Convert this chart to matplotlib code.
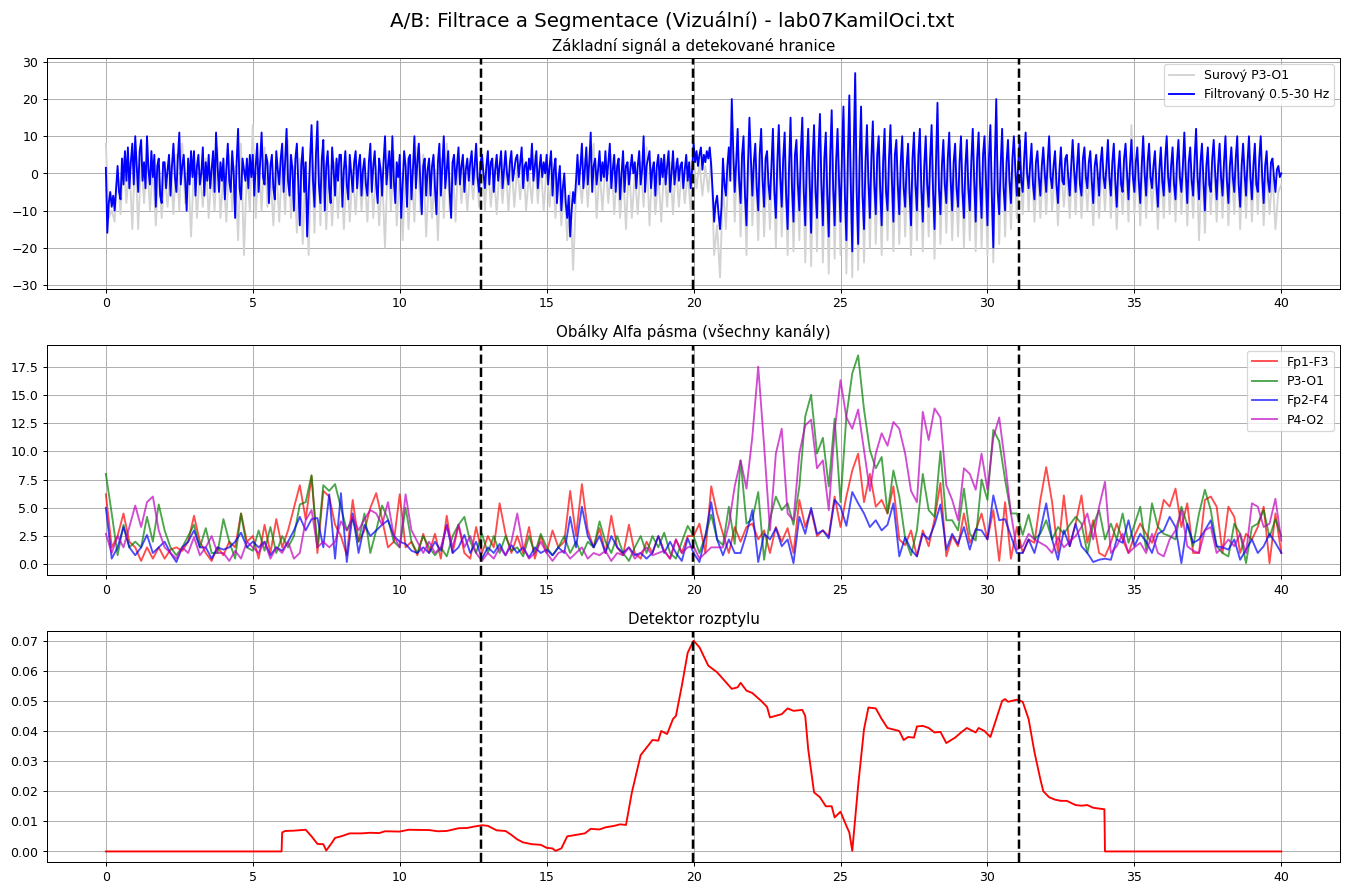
import numpy as np
import matplotlib.pyplot as plt

# hranice segmentu (s)
boundaries = [12.77, 19.97, 31.08]

# --- horni graf: surovy P3-O1 (po 0.1 s) a filtrovany (po 0.05 s) ---
raw_p3o1 = [
    8, -12, -10, -13, 1, -11, 4, -8, 3, -15,
    6, -15, 4, -8, 5, -10, 2, -14, 1, -12,
    0, -9, 2, -11, 5, -10, 8, -8, 1, -17,
    3, -12, 1, -9, 4, -12, 1, -10, 7, -12,
    0, -13, 5, -10, 2, -18, 8, -22, 1, -10,
    13, -12, 4, -10, 7, -9, 0, -14, 2, -13,
    4, -11, 9, -12, 2, -16, 4, -19, 3, -22,
    9, -16, 10, -14, 5, -15, 2, -14, 3, -12,
    1, -15, 2, -13, 1, -11, 2, -10, 1, -13,
    4, -12, 2, -14, 0, -20, 6, -10, 6, -14,
    1, -18, 2, -15, 1, -13, 7, -10, 5, -17,
    0, -12, 1, -18, 4, -12, 8, -10, 3, -13,
    5, -8, 2, -10, 1, -7, 3, -9, 5, -10,
    3, -9, 1, -11, 2, -8, 3, -10, 3, -9,
    2, -7, 4, -10, 0, -8, 5, -8, 3, -10,
    2, -9, 3, -12, 0, -14, -3, -18, -5, -26,
    -6, 0, -8, 4, -9, 3, 8, -12, 1, -10,
    3, -8, 5, -11, 2, -12, 1, -15, 3, -12,
    0, -11, 3, -9, 7, -14, 3, -11, 0, -13,
    2, -9, 3, -11, 3, -9, 1, -8, 0, -10,
    4, -4, 3, -6, 2, -5, 4, -22, -14, -28,
    -3, -15, 3, 17, -13, 8, -17, 6, -22, 10,
    -14, 4, -18, 8, -17, 2, -15, 8, -20, 9,
    -17, 7, -22, 11, -21, 5, -18, 11, -24, 8,
    -25, 9, -21, 12, -24, 7, -27, 13, -23, 8,
    -22, 15, -27, 17, -28, 24, -26, 14, -24, 9,
    -20, 10, -19, 6, -22, 8, -18, 9, -21, 5,
    -19, 6, -17, 4, -22, 7, -18, 8, -21, 6,
    -17, 9, -23, 16, -19, 5, -16, 7, -18, 4,
    -17, 6, -20, 5, -18, 8, -21, 7, -20, 6,
    -22, 9, -24, 16, -19, 8, -17, 5, -15, 6,
    -12, 5, -11, 7, -10, 4, -13, 2, -12, 3,
    -11, 6, -10, 2, -14, 3, -9, 1, -12, 5,
    -11, 4, -12, 3, -10, 2, -14, 1, -12, 3,
    -10, 5, -12, 4, -15, 2, -11, 4, -13, 13,
    -11, 3, -14, 6, -12, 4, -10, 2, -15, 3,
    -12, 6, -11, 3, -13, 5, -11, 7, -14, 3,
    -12, 8, -18, 4, -16, 3, -11, 5, -13, 4,
    -12, 6, -14, 3, -11, 6, -15, 4, -12, 6,
    -13, 4, -11, 6, -14, 2, -11, 0, -15, -5,
    -3,
]
filt_p3o1 = [
    1.5, -16, -8, -5, -9, -6, -10, -4, 2, -5, -7, 4, -3, 6, -2, 7, -4, 3, 8, -3,
    10, 2, -5, 6, 9, -2, 3, -4, 10, 1, -3, 6, -1, 5, -9, 2, 4, -6, -8, 3,
    3, -4, 1, 5, -6, 2, 8, -1, -5, 4, 11, -3, 2, 5, -2, -10, 4, -3, 6, -1,
    6, -6, 2, 5, -3, 0, 7, -6, 3, -2, 5, -4, 1, 6, -5, 11, 2, -5, 3, -2,
    4, -7, 1, 8, -2, -5, 6, 0, -12, 3, 12, -4, -7, 4, 1, -2, 4, -4, 5, -1,
    5, -6, 2, 8, -5, 3, 11, -1, -3, 5, 3, -8, 2, 5, -4, -7, 6, 1, -3, 4,
    8, -5, 3, 12, -2, -6, 5, 1, -10, 4, 8, -3, -14, 2, 7, -5, 3, -17, -6, 4,
    13, -2, -9, 5, 14, -3, -8, 4, 9, -10, 2, 6, -4, -8, 7, 1, -6, 4, -2, 5,
    5, -9, 1, 6, -3, -7, 5, 0, -5, 3, 6, -4, 2, 5, -6, 1, 4, -3, -6, 3,
    8, -5, 2, 6, -3, -8, 4, 1, -6, 3, 10, -3, 2, 6, -4, 10, -2, -8, 3, -1,
    5, -12, -3, 6, 2, -9, 4, 5, -7, 1, 10, -4, 3, 8, -2, -11, 2, 4, -6, 1,
    4, -6, 2, 5, -4, -11, 3, 8, -6, 2, 10, -4, 1, 6, -5, -12, 3, 5, -3, 2,
    7, -3, 2, 5, -5, 1, 4, -2, 3, 6, -3, 2, 8, -1, -5, 3, 5, 0, -4, 2,
    6, -3, 3, 4, -5, 1, 5, -2, 2, 6, -4, 1, 6, 0, -3, 3, 6, -2, 1, 4,
    5, -1, 3, 7, -4, 2, 3, -2, 4, 1, 8, -2, 2, 6, -4, 1, 5, -1, 3, 0,
    5, -3, 2, 6, -6, 1, 4, -8, -2, 2, -10, -4, 0, -8, -12, -6, -17, -10, -5, -8,
    -2, 5, -3, 2, 8, -4, 1, 7, -3, 3, 11, -5, 2, 4, -3, 1, 6, -2, 3, -1,
    6, -2, 3, 8, -4, 1, 5, -5, 2, 4, -7, 0, 6, -5, 2, 3, -3, 1, 5, 0,
    3, -4, 2, 6, -3, 1, 10, -5, 2, 4, 6, -4, 1, 3, -6, 2, 5, -3, 4, -1,
    5, -3, 2, 6, -5, 0, 6, -3, 1, 4, -2, 2, 3, -4, 1, 5, -2, 3, -4, 1,
    8, 3, 6, 2, 5, 7, 1, 5, 3, 6, 4, 7, 2, -5, -13, -8, -6, -11, -15, -9,
    4, -3, -6, 2, 7, -2, 20, 6, -5, 3, 12, -2, -8, 5, 10, -6, -14, 2, 15, 4,
    -6, 3, 8, -4, -10, 5, 12, -2, -9, 4, 6, -3, -7, 2, 12, -5, -12, 3, 13, -1,
    -9, 4, 11, -6, -15, 2, 15, -4, -13, 5, 9, -3, -10, 6, 15, -5, -14, 3, 12, -2,
    -16, 4, 13, -5, -12, 6, 16, -3, -14, 4, 11, -6, -17, 5, 17, -4, -14, 3, 12, -2,
    -13, 5, 18, -6, -18, 4, 21, -3, -21, 6, 27, -5, -19, 4, 18, -6, -15, 3, 13, -2,
    -12, 4, 14, -3, -11, 5, 10, -4, -14, 3, 12, -5, -10, 4, 13, -2, -13, 5, 9, -3,
    -11, 3, 10, -4, -9, 2, 8, -5, -14, 4, 11, -3, -10, 5, 12, -4, -13, 2, 10, -3,
    -9, 4, 13, -5, -15, 3, 19, -4, -11, 2, 9, -3, -8, 4, 11, -2, -10, 3, 8, -4,
    -9, 3, 10, -5, -12, 2, 9, -4, -10, 3, 12, -2, -13, 4, 11, -3, -12, 5, 10, -2,
    -14, 4, 13, -6, -20, 3, 20, -5, -11, 2, 12, -4, -10, 3, 9, -2, -8, 4, 10, 1,
    -6, 3, 9, -2, -5, 4, 11, 0, -4, 2, 8, -3, -7, 3, 6, -1, -6, 2, 7, 0,
    -5, 3, 10, -1, -4, 2, 6, -3, -8, 1, 7, -2, -3, 4, 5, -1, -6, 2, 9, 1,
    -5, 2, 8, -3, -6, 4, 7, -1, -4, 3, 6, -2, -8, 2, 5, 0, -6, 3, 7, -1,
    -4, 2, 9, -1, -6, 3, 8, -2, -9, 1, 6, -3, -5, 4, 8, 0, -7, 2, 9, -1,
    -5, 3, 7, -2, -8, 2, 10, 0, -6, 3, 8, -1, -4, 2, 6, -3, -9, 1, 7, -2,
    -6, 4, 10, -1, -5, 2, 7, -3, -7, 3, 9, -1, -5, 2, 11, 0, -8, 3, 7, -2,
    -6, 4, 12, -1, -7, 3, 8, -2, -10, 2, 7, -3, -5, 4, 9, 0, -7, 2, 8, -1,
    -6, 3, 10, -2, -8, 2, 7, -1, -5, 4, 10, -3, -9, 2, 8, 0, -6, 3, 10, -1,
    -7, 2, 8, -3, -5, 4, 10, -1, -8, 2, 6, -2, -5, 3, 4, -1, -5, 1, 2, -1,
    0,
]

# --- prostredni graf: obalky alfa pasma, vzorky po 0.2 s ---
env_fp1f3 = [
    6.2, 1.5, 2.5, 4.5, 2.0, 1.5, 0.3, 1.5, 0.5, 1.5,
    0.5, 1.3, 1.5, 1.2, 2.0, 4.3, 2.0, 1.0, 0.3, 1.5,
    0.8, 2.0, 1.5, 4.5, 2.0, 2.5, 0.5, 3.5, 1.0, 4.0,
    1.5, 3.0, 5.0, 7.0, 4.0, 7.8, 1.0, 6.5, 6.0, 3.5,
    2.5, 0.8, 5.7, 2.0, 3.0, 5.0, 6.3, 4.0, 1.5, 2.0,
    6.2, 1.5, 2.0, 0.8, 2.7, 1.0, 2.7, 0.5, 4.3, 1.0,
    3.5, 1.0, 0.5, 3.3, 1.0, 2.5, 1.5, 5.4, 2.7, 1.0,
    2.5, 1.0, 3.3, 0.5, 2.5, 1.0, 3.0, 1.5, 2.0, 6.5,
    2.5, 7.1, 3.0, 1.5, 3.2, 1.0, 4.3, 1.5, 0.8, 3.5,
    1.0, 0.5, 2.0, 1.0, 2.5, 1.2, 0.5, 2.2, 1.0, 2.5,
    2.5, 3.6, 1.0, 6.9, 4.5, 2.7, 1.0, 3.3, 2.0, 3.3,
    3.6, 2.2, 3.0, 1.0, 3.3, 2.0, 3.2, 1.0, 5.7, 3.3,
    4.8, 2.5, 3.0, 2.5, 6.0, 3.3, 6.0, 8.3, 9.8, 5.5,
    8.0, 5.1, 5.7, 4.5, 6.9, 2.2, 1.7, 3.0, 0.7, 3.0,
    1.6, 4.0, 7.2, 0.7, 2.5, 1.6, 4.5, 1.9, 3.0, 4.5,
    2.2, 4.8, 0.3, 5.5, 0.5, 3.3, 1.0, 2.2, 1.9, 5.7,
    8.6, 5.5, 1.0, 6.1, 1.6, 3.6, 6.1, 1.9, 3.9, 1.0,
    0.7, 1.9, 3.6, 2.2, 1.0, 2.5, 3.6, 2.7, 1.9, 3.3,
    5.7, 5.1, 6.7, 3.3, 5.4, 1.0, 1.0, 5.7, 6.0, 5.1,
    1.0, 5.1, 4.2, 1.0, 2.7, 2.2, 3.3, 5.1, 0.1, 4.5,
    1.0,
]
env_p3o1 = [
    8.0, 4.5, 0.8, 3.5, 1.5, 2.0, 1.5, 4.2, 2.0, 5.3,
    3.0, 1.5, 0.8, 1.5, 2.5, 3.5, 1.5, 3.2, 1.0, 1.0,
    4.0, 2.0, 0.5, 4.5, 1.5, 1.2, 3.0, 1.2, 3.3, 1.0,
    2.5, 1.5, 2.5, 5.3, 5.5, 7.9, 1.5, 7.0, 6.5, 7.1,
    5.0, 3.0, 4.0, 2.0, 4.5, 1.0, 3.0, 5.2, 4.0, 2.0,
    1.5, 5.0, 2.0, 1.0, 2.5, 1.5, 0.8, 1.5, 0.7, 2.5,
    3.5, 4.2, 2.0, 1.0, 2.7, 1.0, 2.5, 1.0, 2.5, 1.2,
    1.5, 0.7, 2.5, 1.0, 2.7, 1.5, 0.8, 1.5, 2.5, 1.0,
    2.0, 0.8, 2.0, 1.5, 3.8, 2.0, 1.0, 2.5, 1.0, 0.3,
    1.5, 2.5, 1.0, 2.5, 1.5, 2.8, 1.0, 0.5, 2.0, 3.4,
    2.5, 1.0, 2.5, 4.4, 2.2, 1.7, 5.1, 1.8, 9.2, 3.6,
    4.0, 6.4, 0.4, 4.0, 6.0, 4.8, 5.4, 3.5, 6.9, 13.1,
    15.0, 9.8, 11.2, 6.9, 12.9, 5.5, 13.1, 16.9, 18.5, 13.7,
    10.1, 8.5, 9.5, 4.5, 8.3, 6.0, 2.3, 0.8, 3.0, 8.0,
    4.8, 4.2, 10.0, 3.9, 3.9, 3.0, 6.7, 2.7, 2.1, 7.5,
    5.7, 11.9, 10.9, 7.5, 4.5, 4.5, 2.6, 4.4, 2.2, 2.7,
    3.9, 2.2, 3.3, 2.7, 3.5, 4.2, 3.6, 1.0, 3.5, 4.8,
    2.2, 3.6, 2.2, 4.5, 1.9, 3.5, 5.1, 1.3, 5.4, 3.3,
    2.7, 2.5, 2.2, 5.1, 3.5, 1.6, 4.5, 6.6, 4.8, 1.6,
    1.0, 0.7, 3.6, 2.7, 0.1, 3.3, 3.6, 4.8, 2.4, 4.0,
    2.5,
]
env_fp2f4 = [
    5.0, 0.5, 1.5, 3.3, 1.5, 0.8, 1.5, 2.6, 1.0, 1.5,
    2.0, 1.0, 0.2, 1.5, 2.0, 3.0, 1.5, 1.5, 0.5, 1.5,
    1.3, 1.5, 2.0, 2.8, 1.5, 2.0, 1.5, 2.0, 0.8, 1.5,
    1.2, 2.0, 3.0, 4.2, 3.0, 4.0, 4.1, 1.5, 6.2, 0.5,
    6.3, 0.2, 4.5, 1.0, 3.5, 2.5, 3.0, 3.5, 3.9, 2.5,
    2.0, 1.8, 1.2, 1.0, 1.5, 1.0, 2.0, 1.2, 3.5, 1.0,
    1.5, 2.6, 1.0, 2.0, 0.5, 1.5, 1.0, 1.8, 0.8, 1.7,
    1.0, 1.5, 0.6, 1.5, 1.0, 1.3, 0.8, 1.5, 1.0, 4.2,
    1.5, 5.1, 2.5, 1.5, 2.5, 1.0, 2.5, 1.5, 1.0, 1.5,
    0.8, 1.0, 0.5, 1.0, 2.5, 1.0, 2.0, 1.0, 0.3, 2.3,
    1.0, 0.2, 2.5, 5.5, 2.2, 0.8, 2.2, 1.0, 1.0, 2.7,
    4.8, 0.2, 2.7, 2.2, 3.2, 1.6, 2.2, 0.1, 4.2, 2.7,
    5.0, 2.7, 3.0, 2.3, 5.7, 5.1, 3.4, 6.4, 5.4, 4.5,
    3.3, 3.9, 3.0, 3.5, 5.4, 0.7, 2.4, 1.3, 0.7, 2.7,
    2.2, 3.5, 5.3, 1.3, 2.7, 1.8, 3.3, 1.3, 3.1, 3.0,
    2.2, 6.1, 3.9, 4.0, 2.5, 1.0, 1.0, 2.2, 1.0, 3.0,
    5.4, 2.2, 0.4, 3.0, 1.6, 3.6, 1.6, 1.0, 0.2, 0.4,
    0.5, 0.4, 2.2, 1.9, 3.9, 1.6, 2.7, 2.0, 1.0, 2.7,
    3.0, 4.2, 3.3, 0.1, 3.6, 1.9, 2.2, 3.0, 3.9, 1.6,
    1.5, 1.3, 2.2, 0.4, 1.3, 2.2, 1.0, 1.6, 2.7, 1.9,
    1.0,
]
env_p4o2 = [
    2.7, 1.0, 2.5, 1.5, 3.3, 5.2, 3.3, 5.5, 6.0, 3.0,
    1.5, 1.0, 0.5, 1.5, 1.0, 2.4, 0.8, 1.5, 2.5, 1.0,
    1.0, 0.3, 1.2, 0.5, 2.0, 1.5, 1.0, 2.0, 0.5, 1.5,
    1.0, 2.0, 0.5, 1.0, 3.9, 4.8, 1.5, 2.0, 1.5, 2.0,
    3.8, 3.0, 4.2, 3.0, 4.0, 4.8, 4.5, 3.5, 5.5, 2.5,
    1.5, 6.2, 3.0, 2.0, 1.0, 2.0, 1.0, 1.5, 3.4, 1.5,
    3.5, 1.5, 2.5, 1.0, 0.3, 1.0, 0.5, 1.5, 0.8, 2.0,
    4.5, 1.5, 0.5, 1.0, 2.0, 1.0, 0.3, 1.0, 1.2, 0.5,
    1.0, 1.5, 0.5, 1.0, 0.8, 1.2, 0.3, 1.0, 0.8, 1.5,
    0.5, 1.0, 1.5, 0.8, 1.0, 1.2, 0.5, 2.2, 1.0, 1.5,
    1.6, 0.5, 1.0, 1.5, 1.5, 1.5, 3.5, 6.9, 9.2, 6.7,
    11.3, 17.5, 10.5, 3.0, 9.8, 12.0, 4.5, 3.9, 9.8, 12.3,
    12.8, 8.5, 9.2, 4.8, 11.8, 16.3, 13.0, 12.0, 13.7, 10.1,
    6.5, 9.8, 11.6, 10.5, 12.6, 12.0, 9.8, 6.5, 5.5, 13.5,
    11.0, 13.8, 13.0, 7.0, 5.7, 3.9, 8.5, 8.0, 6.6, 9.8,
    6.6, 11.2, 13.0, 9.0, 4.5, 1.3, 1.6, 2.7, 2.2, 1.9,
    1.6, 1.0, 2.4, 1.5, 2.0, 2.5, 3.3, 4.5, 2.2, 5.1,
    7.3, 1.0, 1.6, 2.7, 1.0, 1.5, 1.9, 1.0, 2.7, 1.0,
    0.7, 2.2, 3.0, 4.8, 1.6, 1.2, 1.0, 3.0, 3.3, 1.0,
    1.5, 2.2, 1.6, 2.7, 1.0, 5.4, 5.1, 3.3, 3.6, 5.8,
    2.1,
]

# --- spodni graf: detektor rozptylu ---
det_t = [0, 5.98, 6.0, 6.1, 6.4, 6.8, 7.0, 7.2, 7.4, 7.5, 7.7, 7.8, 8.0, 8.3,
         8.7, 9.0, 9.3, 9.5, 10.0, 10.3, 11.0, 11.3, 11.6, 12.0, 12.3, 12.5,
         12.8, 13.0, 13.3, 13.6, 13.8, 14.0, 14.2, 14.5, 14.8, 15.0, 15.2,
         15.3, 15.5, 15.7, 16.0, 16.3, 16.5, 16.8, 17.0, 17.3, 17.5, 17.7,
         17.9, 18.2, 18.5, 18.6, 18.8, 18.9, 19.1, 19.3, 19.4, 19.6, 19.8,
         20.0, 20.2, 20.5, 20.8, 21.0, 21.3, 21.5, 21.6, 21.8, 22.0, 22.3,
         22.5, 22.6, 23.0, 23.2, 23.4, 23.7, 23.8, 23.9, 24.1, 24.3, 24.5,
         24.7, 24.8, 25.0, 25.2, 25.3, 25.4, 25.6, 25.8, 25.95, 26.2, 26.4,
         26.6, 27.0, 27.15, 27.3, 27.5, 27.6, 27.8, 28.0, 28.2, 28.4, 28.6,
         28.9, 29.1, 29.3, 29.6, 29.7, 29.9, 30.1, 30.3, 30.5, 30.6, 30.7,
         31.0, 31.2, 31.4, 31.6, 31.8, 31.9, 32.1, 32.3, 32.5, 32.7, 33.0,
         33.2, 33.4, 33.6, 33.98, 34.0, 40.0]
det_v = [0, 0, 0.0063, 0.0068, 0.0069, 0.0072, 0.005, 0.0025, 0.0024, 0.0003,
         0.003, 0.0045, 0.005, 0.006, 0.006, 0.0062, 0.0061, 0.0067, 0.0066,
         0.0072, 0.0071, 0.0067, 0.0068, 0.0077, 0.0078, 0.0082, 0.0087,
         0.0085, 0.007, 0.0068, 0.0055, 0.004, 0.003, 0.0024, 0.0022, 0.0012,
         0.001, 0.0002, 0.001, 0.005, 0.0055, 0.006, 0.0075, 0.0073, 0.008,
         0.0085, 0.009, 0.0088, 0.0196, 0.032, 0.0357, 0.037, 0.0368, 0.040,
         0.039, 0.044, 0.045, 0.055, 0.066, 0.070, 0.0678, 0.0617, 0.0595,
         0.0573, 0.054, 0.0545, 0.056, 0.0534, 0.0526, 0.050, 0.048, 0.0445,
         0.0456, 0.0475, 0.0467, 0.047, 0.045, 0.034, 0.0196, 0.018, 0.015,
         0.015, 0.0113, 0.0132, 0.0085, 0.0063, 0.0002, 0.0218, 0.0406,
         0.0478, 0.0475, 0.044, 0.041, 0.040, 0.037, 0.038, 0.0378, 0.0415,
         0.0417, 0.041, 0.0395, 0.0397, 0.036, 0.0378, 0.0395, 0.041, 0.0395,
         0.041, 0.040, 0.038, 0.044, 0.050, 0.0506, 0.0497, 0.0504, 0.0497,
         0.044, 0.033, 0.024, 0.020, 0.018, 0.0172, 0.0168, 0.0168, 0.0154,
         0.0152, 0.0154, 0.0145, 0.014, 0.0, 0.0]

t_raw = np.linspace(0, 40, len(raw_p3o1))
t_filt = np.linspace(0, 40, len(filt_p3o1))
t_env = np.linspace(0, 40, len(env_p3o1))

fig, axes = plt.subplots(3, 1, figsize=(15, 9.86))
fig.suptitle('A/B: Filtrace a Segmentace (Vizuální) - lab07KamilOci.txt',
             fontsize=16, y=0.988)
fig.subplots_adjust(left=0.035, right=0.9963, top=0.9344, bottom=0.0249,
                    hspace=0.243)

ax = axes[0]
ax.plot(t_raw, raw_p3o1, color='lightgray', label='Surový P3-O1')
ax.plot(t_filt, filt_p3o1, color='b', label='Filtrovaný 0.5-30 Hz')
for b in boundaries:
    ax.axvline(b, color='k', linestyle='--', linewidth=2)
ax.set_title('Základní signál a detekované hranice')
ax.set_ylim(-31, 31.1)
ax.set_yticks(np.arange(-30, 31, 10))
ax.set_xlim(-2, 42)
ax.legend(loc='upper right')
ax.grid(True)

ax = axes[1]
ax.plot(t_env, env_fp1f3, color='r', alpha=0.7, label='Fp1-F3')
ax.plot(t_env, env_p3o1, color='g', alpha=0.7, label='P3-O1')
ax.plot(t_env, env_fp2f4, color='b', alpha=0.7, label='Fp2-F4')
ax.plot(t_env, env_p4o2, color='m', alpha=0.7, label='P4-O2')
for b in boundaries:
    ax.axvline(b, color='k', linestyle='--', linewidth=2)
ax.set_title('Obálky Alfa pásma (všechny kanály)')
ax.set_ylim(-0.97, 19.45)
ax.set_yticks(np.arange(0, 17.6, 2.5))
ax.set_xlim(-2, 42)
ax.legend(loc='upper right')
ax.grid(True)

ax = axes[2]
ax.plot(det_t, det_v, color='r')
for b in boundaries:
    ax.axvline(b, color='k', linestyle='--', linewidth=2)
ax.set_title('Detektor rozptylu')
ax.set_ylim(-0.0035, 0.0731)
ax.set_yticks(np.arange(0, 0.071, 0.01))
ax.set_xlim(-2, 42)
ax.grid(True)

plt.savefig('out.png', dpi=89.67)
